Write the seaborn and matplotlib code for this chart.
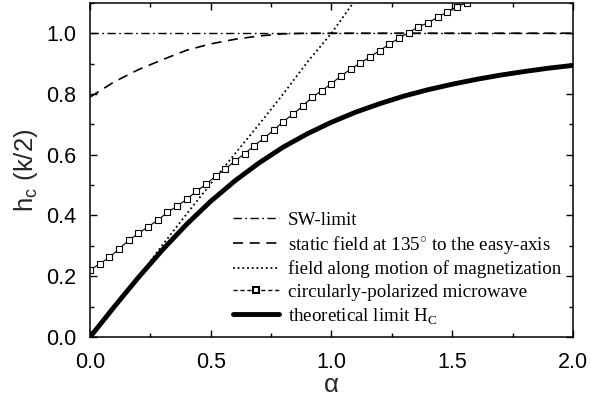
import matplotlib
matplotlib.use("Agg")
import matplotlib.pyplot as plt
from matplotlib.lines import Line2D
from matplotlib.ticker import MultipleLocator
import seaborn as sns

# ---- data ----
sw_alpha = [0.0, 2.0]
sw_h = [1.0, 1.0]

static_alpha = [0.0, 0.1, 0.2, 0.3, 0.4, 0.5, 0.6, 0.7, 0.8, 0.9, 1.0, 1.5, 2.0]
static_h = [0.79, 0.84, 0.88, 0.913, 0.944, 0.965, 0.980, 0.991, 0.998, 1.0, 1.0, 1.0, 1.0]

motion_alpha = [0.25, 0.3, 0.4, 0.5, 0.6, 0.7, 0.8, 0.9, 1.0, 1.09]
motion_h = [0.25, 0.303, 0.405, 0.505, 0.603, 0.70, 0.80, 0.905, 1.0, 1.1]

micro_alpha = [0.00, 0.04, 0.08, 0.12, 0.16, 0.20, 0.24, 0.28, 0.32, 0.36,
               0.40, 0.44, 0.48, 0.52, 0.56, 0.60, 0.64, 0.68, 0.72, 0.76,
               0.80, 0.84, 0.88, 0.92, 0.96, 1.00, 1.04, 1.08, 1.12, 1.16,
               1.20, 1.24, 1.28, 1.32, 1.36, 1.40, 1.44, 1.48, 1.52, 1.56]
micro_h = [0.220, 0.241, 0.262, 0.290, 0.318, 0.341, 0.363, 0.384, 0.410, 0.431,
           0.453, 0.480, 0.502, 0.530, 0.552, 0.580, 0.603, 0.630, 0.654, 0.681,
           0.709, 0.733, 0.760, 0.789, 0.811, 0.834, 0.860, 0.882, 0.902, 0.922,
           0.943, 0.964, 0.984, 1.002, 1.021, 1.034, 1.053, 1.070, 1.087, 1.100]

limit_alpha = [0.0, 0.1, 0.2, 0.3, 0.4, 0.5, 0.6, 0.7, 0.8, 0.9, 1.0,
               1.1, 1.2, 1.3, 1.4, 1.5, 1.6, 1.7, 1.8, 1.9, 2.0]
limit_h = [0.0, 0.0995, 0.196, 0.287, 0.371, 0.447, 0.514, 0.573, 0.625, 0.669, 0.707,
           0.740, 0.768, 0.793, 0.814, 0.832, 0.848, 0.862, 0.874, 0.885, 0.894]

labels = ["SW-limit",
          "static field at 135$^{\\circ}$ to the easy-axis",
          "field along motion of magnetization",
          "circularly-polarized microwave",
          "theoretical limit H$_{\\mathregular{C}}$"]

x_ticks = [0.0, 0.5, 1.0, 1.5, 2.0]
y_ticks = [0.0, 0.2, 0.4, 0.6, 0.8, 1.0]

# ---- styling ----
sns.set_theme(style="ticks")
plt.rcParams['font.family'] = ['Liberation Sans', 'DejaVu Sans']
plt.rcParams['mathtext.fontset'] = 'custom'
plt.rcParams['mathtext.rm'] = 'Liberation Sans'
plt.rcParams['mathtext.it'] = 'Liberation Sans:italic'

fig = plt.figure(figsize=(5.93, 4.05), dpi=100)
ax = fig.add_axes([0.152, 0.168, 0.814, 0.825])

dashdot = (0, (6, 2.5, 1.2, 2.5))
dashed = (0, (6, 4))
dotted = (0, (1, 1.6))

sns.lineplot(x=sw_alpha, y=sw_h, ax=ax, color="black", lw=1.0, linestyle=dashdot,
             sort=False, estimator=None)
sns.lineplot(x=static_alpha, y=static_h, ax=ax, color="black", lw=1.2, linestyle=dashed,
             sort=False, estimator=None)
sns.lineplot(x=motion_alpha, y=motion_h, ax=ax, color="black", lw=1.3, linestyle=dotted,
             sort=False, estimator=None)
sns.lineplot(x=micro_alpha, y=micro_h, ax=ax, color="black", lw=0.8, marker="s",
             markersize=4.2, markerfacecolor="white", markeredgecolor="black",
             markeredgewidth=0.8, sort=False, estimator=None)
sns.lineplot(x=limit_alpha, y=limit_h, ax=ax, color="black", lw=3.5,
             sort=False, estimator=None)

ax.set_xlim(0, 2.0)
ax.set_ylim(0, 1.1)
ax.set_xticks(x_ticks)
ax.set_xticklabels([f"{v:.1f}" for v in x_ticks])
ax.set_yticks(y_ticks)
ax.set_yticklabels([f"{v:.1f}" for v in y_ticks])
ax.xaxis.set_minor_locator(MultipleLocator(0.25))
ax.yaxis.set_minor_locator(MultipleLocator(0.1))
ax.tick_params(which="both", direction="in", top=True, right=True, colors="black",
               width=1.0)
ax.tick_params(which="major", length=5, labelsize=15.5)
ax.tick_params(axis="x", which="major", pad=11)
ax.tick_params(axis="y", which="major", pad=10)
ax.tick_params(which="minor", length=3)
for s in ax.spines.values():
    s.set_linewidth(1.1)
    s.set_color("black")

ax.set_xlabel("α", fontsize=18.5, labelpad=0)
ax.set_ylabel("h$_\\mathregular{c}$ (k/2)", fontsize=18.5, labelpad=4)

handles = [
    Line2D([], [], color="black", lw=1.0, linestyle=dashdot),
    Line2D([], [], color="black", lw=1.2, linestyle=dashed),
    Line2D([], [], color="black", lw=1.3, linestyle=dotted),
    Line2D([], [], color="black", lw=1.0, linestyle=(0, (3, 2)), marker="s",
           markersize=4.2, markerfacecolor="white", markeredgecolor="black",
           markeredgewidth=1.5),
    Line2D([], [], color="black", lw=3.5),
]
leg = ax.legend(handles, labels, loc="lower right", frameon=False, numpoints=1,
                prop={"family": ["Liberation Serif"], "size": 13.7},
                handlelength=2.4, handletextpad=0.5, labelspacing=0.26,
                borderaxespad=0.2, bbox_to_anchor=(1.0, 0.0))
for t in leg.get_texts():
    t.set_color("black")

fig.savefig("out.png", dpi=100)
